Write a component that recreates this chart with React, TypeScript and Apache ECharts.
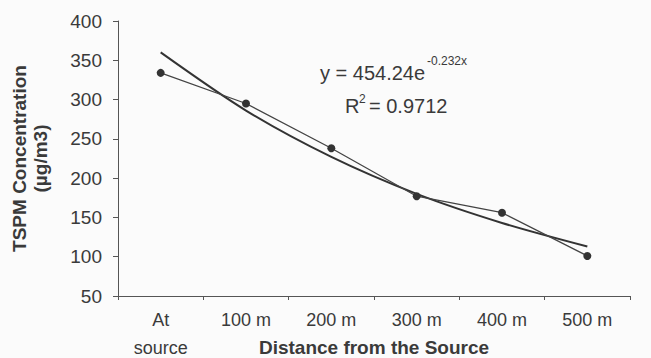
import React, { useEffect, useRef } from "react";
import * as echarts from "echarts";

const categories = ["At\nsource", "100 m", "200 m", "300 m", "400 m", "500 m"];
const measured = [334, 295, 238, 177, 156, 101];
const trend = [360, 286, 227, 180, 143, 113];
const yTicks = { min: 50, max: 400, interval: 50 };
const equationMain = "y = 454.24e";
const equationExp = "-0.232x";
const r2Main = "R";
const r2Sup = "2";
const r2Rest = "= 0.9712";

const FONT = "'Liberation Sans', Arial, sans-serif";
const INK = "#3a3a3a";

export default function App() {
  const ref = useRef<HTMLDivElement>(null);
  useEffect(() => {
    if (!ref.current) return;
    const chart = echarts.init(ref.current, null, { renderer: "svg" });
    chart.setOption({
      animation: false,
      backgroundColor: "#fbfbfb",
      textStyle: { fontFamily: FONT },
      grid: {
        left: 118,
        right: 21,
        top: 21,
        bottom: 62,
        containLabel: false,
        outerBoundsMode: "none",
      },
      xAxis: {
        type: "category",
        data: categories,
        boundaryGap: true,
        axisLine: { lineStyle: { color: "#555", width: 1 } },
        axisTick: { show: true, length: 4, lineStyle: { color: "#555" } },
        axisLabel: {
          interval: 0,
          color: INK,
          fontSize: 18,
          lineHeight: 28,
          margin: 10,
          fontFamily: FONT,
        },
        name: "Distance from the Source",
        nameLocation: "middle",
        nameGap: 42,
        nameMoveOverlap: false,
        nameTextStyle: { fontWeight: "bold", fontSize: 19, color: INK, fontFamily: FONT },
      },
      yAxis: {
        type: "value",
        min: yTicks.min,
        max: yTicks.max,
        interval: yTicks.interval,
        splitLine: { show: false },
        axisLine: { show: true, lineStyle: { color: "#555", width: 1 } },
        axisTick: { show: true, length: 5, lineStyle: { color: "#555" } },
        axisLabel: { color: INK, fontSize: 19, margin: 16, fontFamily: FONT },
        name: "TSPM Concentration\n(µg/m3)",
        nameLocation: "middle",
        nameGap: 67,
        nameMoveOverlap: false,
        nameTextStyle: {
          fontWeight: "bold",
          fontSize: 19,
          lineHeight: 21,
          color: INK,
          fontFamily: FONT,
        },
      },
      series: [
        {
          type: "line",
          data: measured,
          symbol: "circle",
          symbolSize: 8,
          lineStyle: { color: "#444", width: 1.3 },
          itemStyle: { color: "#333" },
          z: 3,
        },
        {
          type: "line",
          data: trend,
          symbol: "none",
          smooth: 0.3,
          lineStyle: { color: "#333", width: 2 },
          z: 2,
        },
      ],
      graphic: [
        {
          type: "text",
          left: 320,
          top: 63,
          style: { text: equationMain, font: `20px ${FONT}`, fill: INK },
        },
        {
          type: "text",
          left: 427,
          top: 55,
          style: { text: equationExp, font: `12px ${FONT}`, fill: INK },
        },
        {
          type: "text",
          left: 345,
          top: 96,
          style: { text: r2Main, font: `20px ${FONT}`, fill: INK },
        },
        {
          type: "text",
          left: 359,
          top: 93,
          style: { text: r2Sup, font: `12px ${FONT}`, fill: INK },
        },
        {
          type: "text",
          left: 369,
          top: 96,
          style: { text: r2Rest, font: `20px ${FONT}`, fill: INK },
        },
      ],
    });
    return () => chart.dispose();
  }, []);
  return (
    <div
      ref={ref}
      style={{ position: "fixed", left: 0, top: 0, width: 651, height: 358 }}
    />
  );
}
